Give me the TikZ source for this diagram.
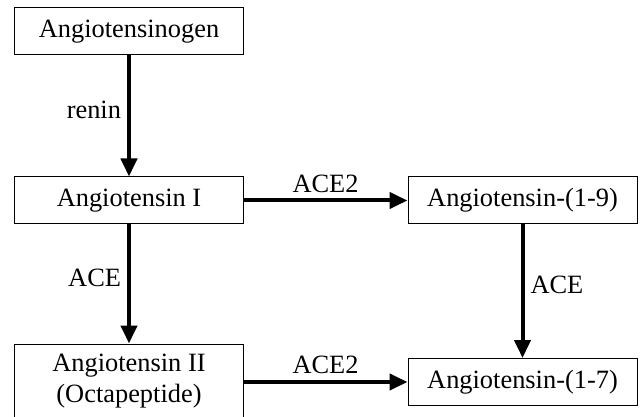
\documentclass[tikz,border=0pt]{standalone}
\usepackage{fontspec}
\setmainfont{Liberation Serif}
\usetikzlibrary{arrows.meta}

\begin{document}
\begin{tikzpicture}[->,>={Triangle[length=9pt,width=8pt]},line width=2pt,
    font=\fontsize{13.2}{15.6}\selectfont,
    peptide/.style={draw,line width=0.5pt,minimum width=114pt,minimum height=23.5pt,align=center,inner sep=2pt},
    enzyme/.style={draw=none,inner sep=3pt}]
    \clip (-64.5pt,15.75pt) rectangle (255.5pt,-192.25pt);
    \node[peptide] (agt) at (0,0) {Angiotensinogen};
    \node[peptide] (ang1) [below of=agt,node distance=84.5pt] {Angiotensin I};
    \node[peptide,minimum height=37pt] (ang2) [below of=ang1,node distance=90.25pt] {Angiotensin II\\(Octapeptide)};
    \node[peptide,minimum width=114.5pt] (ang19) [right of=ang1,node distance=196.75pt] {Angiotensin-(1-9)};
    \node[peptide,minimum width=114.5pt] (ang17) [below of=ang19,node distance=90.75pt] {Angiotensin-(1-7)};

    \path (agt) edge node [enzyme,left,pos=0.45] {renin} (ang1)
    (ang1) edge node [enzyme,left,pos=0.45] {ACE} (ang2)
    edge node [enzyme,above] {ACE2} (ang19)
    (ang19) edge node [enzyme,right,pos=0.45] {ACE} (ang17)
    (ang2.east |- ang17) edge node [enzyme,above] {ACE2} (ang17);
\end{tikzpicture}
\end{document}
